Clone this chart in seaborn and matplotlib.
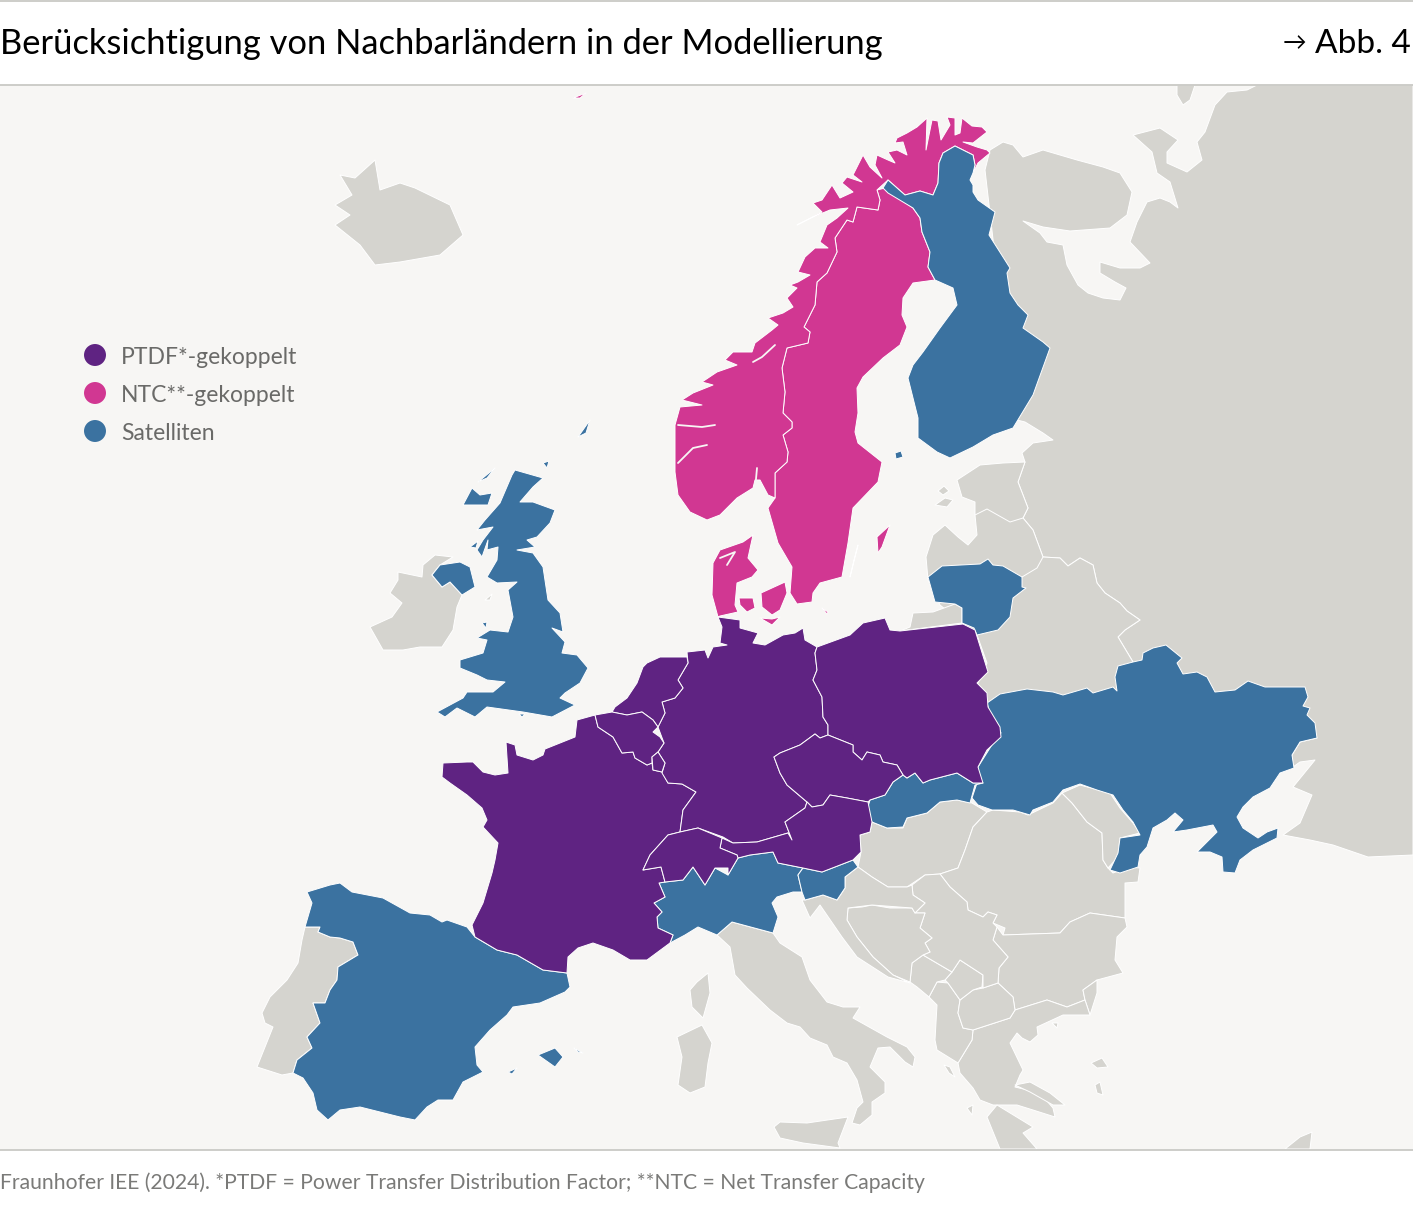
import matplotlib
matplotlib.use("Agg")
import matplotlib.pyplot as plt
import pandas as pd
import seaborn as sns

# --- Texte ---
TITEL = "Berücksichtigung von Nachbarländern in der Modellierung"
PFEIL = "→"
ABB = "Abb. 4"
QUELLE = "Fraunhofer IEE (2024). *PTDF = Power Transfer Distribution Factor; **NTC = Net Transfer Capacity"
GRUPPEN = ["PTDF*-gekoppelt", "NTC**-gekoppelt", "Satelliten"]

# --- Farben ---
LILA = "#5f2382"
PINK = "#d13792"
BLAU = "#3b72a0"
GRAU = "#d5d4cf"
MEER = "#f7f6f4"
LINIE = "#c9c9c5"

# --- Umrisse in Bildpixeln (x, y) ---
# PTDF
frankreich = [(595,715),(577,720),(575,737),(545,749),(543,755),(533,760),(517,755),(515,745),(506,742),(508,773),(495,775),(483,772),(473,762),(467,762),(443,763),(442,777),(450,783),(467,795),(482,808),(487,820),(483,827),(498,843),(495,860),(492,873),(483,903),(472,925),(475,937),(497,950),(517,955),(543,970),(567,973),(568,957),(578,948),(593,943),(613,950),(630,960),(647,960),(670,943),(673,935),(658,928),(657,917),(662,912),(654,903),(665,897),(659,883),(665,882),(661,867),(643,870),(650,855),(668,835),(680,832),(683,810),(696,792),(682,784),(668,783),(662,772),(653,770),(652,763),(647,765),(635,758),(633,752),(622,753),(613,737),(598,727)]
deutschland = [(718,617),(740,620),(740,628),(758,633),(753,643),(765,645),(783,635),(795,633),(803,628),(805,640),(817,647),(815,653),(817,670),(813,680),(822,697),(823,717),(828,725),(828,735),(820,738),(815,734),(800,745),(780,753),(774,757),(780,773),(787,785),(807,802),(805,808),(785,822),(792,840),(788,833),(757,842),(733,843),(723,837),(698,828),(680,832),(683,810),(696,792),(682,784),(668,783),(662,773),(665,763),(658,752),(664,743),(658,727),(665,713),(662,702),(675,698),(683,688),(678,680),(688,663),(687,652),(705,650),(708,658),(713,647),(727,645),(720,643),(722,627)]
niederlande = [(660,657),(687,657),(688,663),(678,680),(683,688),(675,698),(662,702),(665,713),(658,727),(653,720),(642,712),(627,715),(612,712),(615,707),(627,698),(637,683),(643,667),(647,663)]
belgien = [(595,715),(612,712),(627,715),(642,712),(653,720),(658,727),(653,732),(660,737),(664,743),(658,752),(652,757),(652,763),(647,765),(635,758),(633,752),(622,753),(613,737),(598,727)]
luxemburg = [(658,752),(665,763),(662,772),(653,770),(652,757)]
polen = [(817,647),(850,635),(863,623),(885,618),(890,630),(900,631),(963,624),(975,630),(988,672),(977,683),(987,693),(988,707),(1000,727),(1001,737),(987,750),(978,767),(983,783),(973,783),(957,773),(930,780),(923,783),(915,773),(907,778),(903,775),(897,765),(883,762),(880,755),(867,752),(862,760),(853,752),(853,745),(828,735),(828,725),(823,717),(822,697),(813,680),(817,670),(815,653)]
tschechien = [(828,735),(820,738),(815,734),(800,745),(780,753),(774,757),(780,773),(787,785),(807,802),(812,807),(823,805),(830,795),(847,798),(868,802),(870,800),(885,795),(893,782),(903,775),(897,765),(883,762),(880,755),(867,752),(862,760),(853,752),(853,745)]
oesterreich = [(868,802),(872,822),(870,832),(860,835),(861,852),(853,860),(822,872),(803,868),(778,863),(773,852),(750,855),(738,858),(737,855),(720,848),(722,838),(733,843),(757,842),(788,833),(792,840),(785,822),(805,808),(807,802),(812,807),(823,805),(830,795),(847,798)]
schweiz = [(680,832),(698,828),(722,838),(720,848),(737,855),(738,858),(728,875),(728,868),(715,868),(705,885),(693,867),(683,880),(665,882),(661,867),(643,870),(650,855),(668,835)]

# NTC
norwegen = [(877,190),(888,180),(905,195),(920,191),(933,195),(938,183),(939,163),(943,153),(955,146),(973,155),(975,165),(973,173),(978,163),(990,153),(987,150),(977,147),(963,142),(973,143),(987,132),(982,127),(972,126),(962,118),(960,133),(955,135),(955,118),(947,117),(950,125),(941,140),(938,121),(932,120),(926,150),(927,118),(917,127),(907,133),(897,138),(895,143),(903,142),(907,155),(897,150),(888,152),(895,163),(888,160),(877,155),(875,165),(882,178),(870,167),(863,155),(853,175),(862,182),(847,177),(842,183),(853,192),(840,198),(832,185),(822,200),(813,203),(822,212),(797,225),(813,217),(830,210),(848,208),(837,218),(827,225),(820,242),(828,248),(815,248),(805,257),(798,272),(810,275),(798,282),(790,285),(797,288),(787,298),(793,307),(783,313),(768,318),(778,325),(772,330),(755,343),(752,352),(733,352),(725,360),(737,365),(717,372),(702,382),(713,385),(693,393),(682,400),(702,405),(680,407),(675,425),(675,472),(678,495),(690,512),(707,520),(720,515),(737,498),(753,488),(755,480),(760,480),(768,495),(775,498),(775,483),(775,473),(787,462),(788,452),(783,435),(792,428),(792,422),(783,413),(785,392),(782,368),(787,348),(808,343),(810,332),(804,327),(815,305),(817,282),(827,273),(837,252),(835,238),(847,220),(853,222),(857,207),(878,210),(880,200)]
schweden = [(877,190),(885,188),(913,208),(920,218),(922,232),(930,252),(928,267),(935,280),(913,283),(903,298),(902,315),(907,327),(900,345),(883,358),(863,377),(857,388),(858,413),(855,432),(858,443),(882,462),(878,482),(853,508),(848,543),(842,577),(820,583),(813,593),(812,602),(797,604),(790,593),(792,567),(778,543),(768,508),(775,498),(775,483),(775,473),(787,462),(788,452),(783,435),(792,428),(792,422),(783,413),(785,392),(782,368),(787,348),(808,343),(810,332),(804,327),(815,305),(817,282),(827,273),(837,252),(835,238),(847,220),(853,222),(857,207),(878,210),(880,200)]
gotland = [(877,537),(890,525),(882,547),(878,553)]
oeland = [(858,545),(850,577),(854,560)]
jan_mayen = [(573,98),(586,93),(580,98)]
juetland = [(718,617),(712,595),(713,563),(720,550),(743,542),(753,535),(748,558),(758,570),(752,577),(737,583),(735,605),(738,612),(720,616)]
fuenen = [(739,598),(753,598),(755,608),(747,612),(740,605)]
seeland = [(761,593),(785,582),(787,593),(780,610),(772,615),(762,607)]
lolland = [(760,618),(772,625),(780,617),(772,619)]
bornholm = [(822,608),(828,612),(827,614)]

# Satelliten
finnland = [(883,188),(888,180),(905,195),(920,191),(933,195),(938,183),(939,163),(943,153),(955,146),(973,155),(975,165),(973,173),(970,180),(973,185),(973,192),(978,200),(995,212),(989,235),(1010,268),(1007,273),(1010,293),(1018,305),(1028,315),(1023,328),(1043,342),(1050,348),(1033,395),(1013,428),(993,435),(973,447),(950,458),(937,452),(918,438),(918,418),(908,378),(913,365),(923,352),(940,328),(957,305),(953,288),(935,280),(928,267),(930,252),(922,232),(920,218),(913,208),(888,193)]
aland = [(895,453),(901,451),(903,457),(896,459)]
litauen = [(928,577),(942,566),(980,564),(988,559),(993,565),(1003,566),(1022,577),(1022,587),(1026,588),(1013,598),(1010,617),(998,630),(977,635),(974,628),(962,623),(962,608),(955,604),(935,602)]
ukraine = [(987,703),(1000,694),(1027,689),(1053,692),(1063,695),(1087,688),(1093,693),(1113,687),(1117,691),(1115,677),(1118,666),(1133,662),(1142,660),(1143,653),(1153,648),(1166,645),(1182,658),(1177,663),(1183,674),(1197,672),(1207,677),(1215,692),(1235,690),(1248,681),(1265,687),(1305,687),(1308,697),(1303,706),(1310,708),(1307,715),(1315,723),(1317,738),(1300,742),(1292,755),(1294,768),(1280,773),(1270,788),(1253,797),(1243,807),(1237,817),(1243,828),(1258,838),(1267,832),(1278,828),(1277,838),(1267,843),(1253,850),(1240,860),(1235,873),(1223,872),(1222,857),(1210,852),(1197,852),(1217,832),(1213,825),(1187,830),(1173,832),(1183,820),(1175,813),(1167,820),(1153,828),(1147,847),(1140,855),(1138,867),(1120,873),(1110,870),(1118,853),(1120,838),(1140,835),(1133,822),(1123,810),(1113,795),(1097,790),(1080,784),(1063,790),(1053,802),(1033,810),(1030,815),(1013,810),(992,810),(978,805),(972,798),(977,783),(978,767),(995,740),(1001,733),(997,723),(990,713)]
slowakei = [(983,783),(973,783),(957,773),(930,780),(923,783),(915,773),(907,778),(903,775),(893,782),(885,795),(870,800),(867,810),(872,822),(887,828),(903,827),(907,818),(927,813),(940,802),(957,800),(970,803),(975,785)]
norditalien = [(659,883),(665,882),(683,880),(693,867),(705,885),(715,868),(728,875),(738,858),(750,855),(773,852),(778,863),(803,868),(798,875),(802,892),(793,892),(777,897),(772,903),(778,917),(773,933),(732,922),(717,935),(698,927),(685,935),(670,943),(673,935),(658,928),(657,917),(662,912),(654,903),(665,897)]
slowenien = [(803,868),(822,872),(853,860),(858,867),(845,877),(845,888),(837,900),(823,895),(805,900),(802,892),(798,875)]
spanien = [(307,892),(330,885),(340,883),(352,892),(383,898),(410,913),(430,915),(442,922),(447,920),(467,927),(475,937),(497,950),(517,955),(543,970),(567,973),(570,987),(565,992),(540,1003),(513,1007),(507,1015),(490,1030),(475,1047),(477,1065),(483,1072),(463,1082),(453,1100),(438,1100),(427,1107),(415,1120),(400,1117),(360,1107),(340,1110),(328,1120),(317,1110),(313,1093),(303,1078),(293,1073),(297,1060),(312,1048),(307,1037),(320,1023),(313,1003),(325,1003),(330,990),(337,980),(338,967),(358,955),(353,942),(340,938),(330,937),(318,932),(320,927),(305,927),(312,903)]
mallorca = [(538,1055),(555,1048),(563,1057),(555,1067)]
menorca = [(574,1048),(583,1053),(578,1052)]
ibiza = [(508,1072),(517,1068),(512,1074)]
grossbritannien = [(515,470),(543,478),(533,487),(520,502),(533,502),(555,510),(550,523),(537,537),(527,540),(535,547),(517,550),(533,553),(543,567),(548,600),(560,613),(563,632),(552,628),(565,642),(562,653),(577,655),(588,668),(580,683),(565,693),(560,698),(575,705),(552,717),(523,712),(487,707),(475,717),(457,708),(445,717),(437,712),(463,698),(467,692),(493,692),(505,682),(487,680),(477,675),(460,668),(460,660),(483,653),(487,640),(477,638),(490,630),(508,632),(513,617),(508,590),(517,582),(497,583),(487,577),(497,560),(498,547),(487,550),(488,540),(482,557),(477,550),(483,540),(493,527),(477,530),(485,520),(500,503),(512,475)]
nordirland = [(432,575),(440,565),(460,562),(470,567),(475,587),(462,595),(450,582),(442,587)]
skye = [(480,495),(492,493),(488,505),(463,505),(472,488)]
lewis = [(478,482),(495,468),(487,478)]
orkney = [(543,463),(549,461),(547,468)]
shetland = [(578,437),(590,420),(586,433)]
islay = [(470,547),(478,541),(476,548)]
anglesey = [(482,623),(487,622),(486,628)]
wight = [(519,714),(525,714),(522,717)]

# nicht modelliert
russland = [(990,150),(1003,142),(1013,145),(1023,157),(1043,150),(1077,160),(1103,167),(1120,173),(1132,192),(1127,215),(1110,228),(1070,231),(1043,227),(1023,221),(1040,233),(1047,242),(1063,245),(1067,265),(1078,285),(1088,293),(1103,298),(1120,300),(1126,288),(1115,282),(1100,273),(1100,262),(1120,268),(1140,268),(1150,263),(1130,242),(1137,222),(1147,202),(1160,198),(1170,202),(1178,208),(1170,182),(1157,173),(1152,152),(1133,135),(1160,128),(1178,140),(1167,152),(1167,163),(1187,172),(1202,160),(1197,142),(1205,132),(1215,105),(1227,92),(1247,90),(1257,85),(1413,85),(1413,855),(1368,857),(1333,845),(1310,840),(1283,835),(1300,823),(1312,795),(1293,787),(1315,760),(1300,762),(1293,767),(1292,755),(1300,742),(1317,738),(1133,662),(1118,637),(1125,630),(1140,620),(1127,611),(1120,603),(1105,593),(1097,583),(1093,565),(1080,558),(1068,566),(1060,558),(1043,557),(1033,530),(1023,518),(1028,508),(1018,482),(1025,462),(1022,453),(1033,443),(1053,440),(1043,433),(1025,422),(1017,420),(1000,300),(985,170)]
weisses_meer_insel = [(1177,85),(1195,85),(1190,100),(1183,105),(1177,95)]
baltikum_belarus = [(1025,462),(1003,463),(980,465),(957,480),(962,497),(975,502),(975,515),(977,535),(968,545),(958,537),(945,525),(933,535),(926,557),(928,580),(940,605),(977,635),(987,663),(977,685),(987,703),(1130,700),(1133,662),(1118,637),(1125,630),(1140,620),(1127,611),(1120,603),(1105,593),(1097,583),(1093,565),(1080,558),(1068,566),(1060,558),(1043,557),(1033,530),(1023,518),(1028,508),(1018,482)]
saaremaa = [(935,505),(945,498),(953,500),(947,507)]
hiiumaa = [(938,491),(944,486),(949,491),(943,495)]
kaliningrad = [(913,613),(933,612),(955,604),(962,608),(962,623),(900,631),(910,627)]
irland = [(398,572),(422,577),(423,565),(435,555),(453,557),(440,565),(432,575),(442,587),(450,582),(462,595),(457,607),(453,630),(442,647),(420,647),(403,650),(383,650),(370,627),(392,617),(402,603),(390,593),(398,580)]
man = [(485,600),(492,594),(490,600)]
island = [(335,205),(352,195),(340,175),(355,178),(375,160),(380,190),(400,183),(415,188),(450,205),(463,235),(440,255),(400,262),(375,265),(360,245),(335,225),(350,215)]
portugal = [(305,927),(320,927),(318,932),(330,937),(340,938),(353,942),(358,955),(338,967),(337,980),(330,990),(325,1003),(313,1003),(320,1023),(307,1037),(312,1048),(297,1060),(293,1073),(282,1075),(257,1067),(267,1042),(273,1027),(265,1023),(262,1013),(270,997),(287,980),(298,963),(302,940)]
andorra = [(532,963),(538,963),(533,968)]
italien = [(732,922),(773,933),(780,943),(802,957),(810,980),(827,1002),(843,1007),(860,1007),(853,1018),(887,1037),(907,1047),(915,1057),(913,1067),(905,1062),(890,1047),(878,1048),(870,1067),(885,1082),(885,1093),(872,1102),(872,1115),(860,1125),(852,1123),(857,1108),(863,1102),(857,1080),(847,1063),(833,1057),(827,1045),(810,1038),(800,1027),(787,1023),(770,1010),(747,988),(735,975),(730,947),(717,935)]
sizilien = [(774,1127),(780,1122),(807,1123),(848,1117),(838,1143),(840,1148),(803,1143),(780,1138)]
sardinien = [(677,1037),(702,1025),(712,1043),(708,1063),(705,1087),(690,1093),(678,1085),(682,1057)]
korsika = [(708,973),(710,993),(703,1018),(692,1007),(690,990),(697,982)]
ungarn = [(872,822),(887,828),(903,828),(907,818),(927,813),(940,802),(957,800),(972,803),(987,812),(973,827),(965,850),(958,868),(940,874),(925,875),(907,887),(888,887),(872,877),(858,867),(861,852),(860,835),(870,832)]
rumaenien = [(987,812),(993,810),(1020,812),(1028,815),(1053,803),(1062,793),(1072,803),(1087,822),(1102,833),(1103,860),(1108,868),(1113,873),(1128,867),(1140,868),(1138,882),(1125,883),(1125,918),(1090,913),(1070,922),(1060,933),(1003,935),(1005,928),(993,923),(997,915),(988,912),(983,917),(968,910),(967,902),(950,887),(940,874),(958,868),(965,850),(973,827)]
moldau = [(1062,793),(1080,785),(1110,793),(1120,808),(1133,823),(1140,833),(1120,838),(1118,857),(1108,868),(1103,860),(1102,833),(1087,822),(1072,803)]
bulgarien = [(1125,918),(1127,927),(1117,937),(1115,960),(1123,973),(1097,980),(1083,990),(1085,1000),(1067,1007),(1047,1000),(1015,1010),(1013,997),(998,983),(999,968),(1008,957),(993,940),(997,927),(1003,935),(1060,933),(1070,922),(1090,913)]
tuerkei_eu = [(1097,980),(1097,993),(1090,1015),(1085,1000),(1083,990)]
griechenland = [(973,1030),(1010,1018),(1015,1010),(1047,1000),(1067,1007),(1085,1000),(1090,1015),(1063,1015),(1037,1027),(1038,1035),(1030,1042),(1022,1038),(1017,1033),(1010,1043),(1023,1070),(1020,1075),(1015,1087),(1040,1093),(1053,1108),(1055,1117),(1033,1110),(1017,1105),(993,1105),(980,1100),(973,1088),(960,1073),(958,1063),(972,1040)]
peloponnes = [(987,1117),(997,1105),(1033,1127),(1023,1133),(1037,1149),(1000,1149)]
albanien = [(958,1063),(972,1040),(973,1030),(963,1028),(958,1013),(960,1000),(948,983),(937,982),(929,997),(937,1005),(935,1040),(937,1050)]
nordmazedonien = [(960,1000),(973,990),(983,988),(998,983),(1013,997),(1015,1010),(1010,1018),(973,1030),(963,1028),(958,1013)]
kosovo = [(945,980),(952,972),(960,960),(983,975),(982,987),(973,990),(960,1000),(948,983)]
montenegro = [(910,982),(912,963),(923,955),(952,972),(945,980),(937,982),(929,997),(917,987)]
serbien = [(940,874),(950,887),(967,902),(968,910),(983,917),(988,912),(997,915),(993,923),(997,927),(993,940),(1008,957),(999,968),(998,983),(983,988),(983,975),(960,960),(952,972),(923,955),(930,952),(925,943),(932,938),(920,928),(925,913),(915,913),(925,903),(913,895),(912,885),(925,875)]
bosnien = [(848,908),(862,907),(872,905),(890,908),(912,908),(915,913),(925,913),(920,928),(932,938),(925,943),(930,952),(923,955),(912,963),(910,982),(893,975),(873,957),(857,937),(847,920)]
kroatien = [(845,877),(858,867),(872,877),(888,887),(907,887),(912,885),(913,895),(925,903),(915,913),(912,908),(872,905),(848,908),(847,920),(857,937),(873,957),(893,975),(910,983),(888,977),(857,957),(842,937),(820,905),(810,918),(802,900),(805,900),(823,895),(837,900),(845,888)]
euboea = [(1015,1085),(1030,1082),(1050,1093),(1065,1105),(1053,1105),(1030,1092)]
lesbos = [(1091,1063),(1102,1058),(1108,1067),(1097,1068)]
chios = [(1095,1085),(1100,1082),(1103,1095),(1097,1093)]
thasos = [(1052,1023),(1058,1023),(1057,1028)]
kefalonia = [(967,1108),(973,1105),(972,1115)]
kerkyra = [(944,1065),(950,1067),(955,1077),(949,1073)]
anatolien = [(1285,1149),(1300,1137),(1312,1132),(1310,1149)]

# weiße Linien: Fjorde und Binnengrenzen
fjorde = [
    [(753,362),(762,357),(775,345)], [(678,425),(702,427),(715,425)], [(678,463),(693,448),(707,445)],
    [(757,468),(755,490)], [(720,558),(735,552),(727,565)],
]
grenzen = [
    [(975,515),(987,509),(1010,522),(1023,518)],
    [(1022,577),(1037,568),(1043,557)],
]

ptdf = [frankreich, deutschland, niederlande, belgien, luxemburg, polen, tschechien, oesterreich, schweiz]
ntc = [schweden, norwegen, gotland, oeland, jan_mayen, juetland, fuenen, seeland, lolland, bornholm]
satelliten = [finnland, aland, litauen, ukraine, slowakei, norditalien, slowenien, spanien, mallorca, menorca,
              ibiza, grossbritannien, nordirland, skye, lewis, orkney, shetland, islay, anglesey, wight]
sonstige = [russland, weisses_meer_insel, baltikum_belarus, saaremaa, hiiumaa, kaliningrad, irland, man, island,
            portugal, andorra, italien, sizilien, sardinien, korsika, ungarn, rumaenien, moldau, bulgarien,
            tuerkei_eu, griechenland, peloponnes, albanien, nordmazedonien, kosovo, montenegro, serbien, bosnien,
            kroatien, euboea, lesbos, chios, thasos, kefalonia, kerkyra, anatolien]

sns.set_theme(style="white")
plt.rcParams["font.family"] = ["Lato", "DejaVu Sans"]

fig = plt.figure(figsize=(14.13, 12.09), dpi=100, facecolor="white")
ax = fig.add_axes([0, 0, 1, 1])
ax.set_xlim(0, 1413)
ax.set_ylim(1209, 0)
ax.axis("off")

# Kartenfläche und Trennlinien
ax.axhspan(85, 1149, color=MEER, lw=0, zorder=0)
for y in [0.5, 84.5, 1149.5]:
    ax.axhline(y, color=LINIE, lw=1.3, zorder=5)


def zeichne(flaechen, farbe):
    for flaeche in flaechen:
        xs, ys = zip(*flaeche)
        ax.fill(xs, ys, facecolor=farbe, edgecolor="white", lw=0.7, joinstyle="round", zorder=2)


zeichne(sonstige, GRAU)
zeichne(ntc, PINK)
zeichne(satelliten, BLAU)
zeichne(ptdf, LILA)

for linie in grenzen:
    xs, ys = zip(*linie)
    ax.plot(xs, ys, color="white", lw=0.7, zorder=3)
for linie in fjorde:
    xs, ys = zip(*linie)
    ax.plot(xs, ys, color=MEER, lw=1.3, zorder=3)

# Legende
legende = pd.DataFrame({"gruppe": GRUPPEN, "x": [95, 95, 95], "y": [355, 393, 431]})
sns.scatterplot(data=legende, x="x", y="y", hue="gruppe", palette=[LILA, PINK, BLAU],
                s=250, linewidth=0, legend=False, zorder=4, ax=ax)
ax.set_xlim(0, 1413)
ax.set_ylim(1209, 0)
ax.axis("off")
for gruppe, y in zip(legende["gruppe"], legende["y"]):
    ax.text(121, y + 3, gruppe, fontsize=16.5, color="#6a6a68", va="center", ha="left", zorder=4)

ax.text(0, 44, TITEL, fontsize=24.8, color="black", va="center", ha="left")
ax.text(1283, 44, PFEIL, fontsize=17, color="black", va="center", ha="left")
ax.text(1411, 44, ABB, fontsize=24, color="black", va="center", ha="right")
ax.text(0, 1183, QUELLE, fontsize=15.25, color="#7a7a78", va="center", ha="left")

fig.savefig("out.png", dpi=100, facecolor="white")
